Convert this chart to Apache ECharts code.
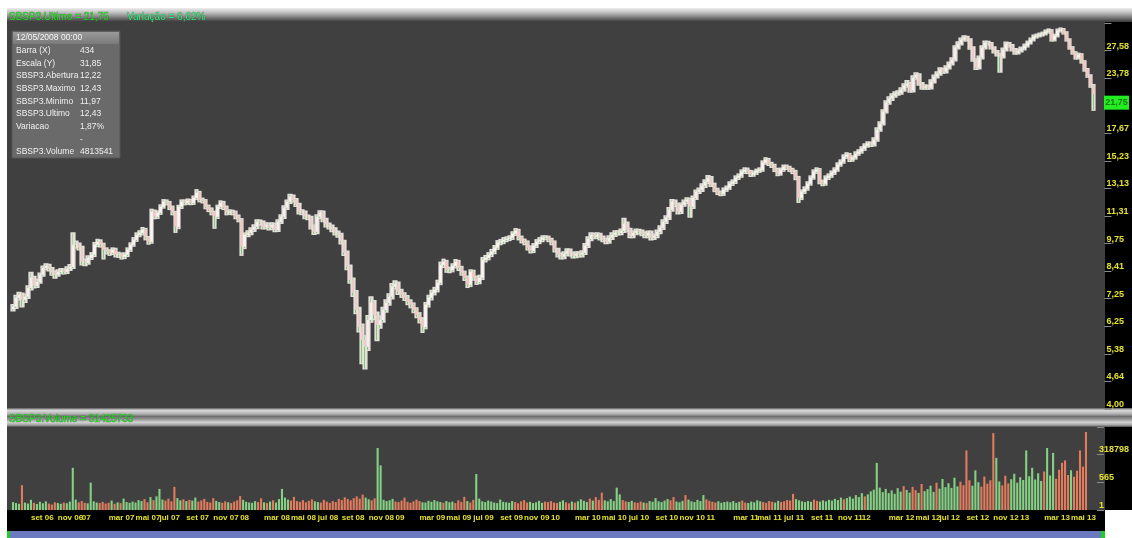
<!DOCTYPE html>
<html><head><meta charset="utf-8">
<script src="https://cdn.jsdelivr.net/npm/echarts@6/dist/echarts.min.js"></script>
<style>html,body{margin:0;padding:0;background:#fff;}#c{width:1132px;height:538px;}</style>
</head><body><div id="c"></div>
<script>
// ---------- DATA (weekly bars) ----------
const startWeek = '2006-07-24';
const weekOpen = [
6.85,6.94,7.28,7.40,7.20,7.32,7.68,8.11,7.77,7.93,
8.24,8.55,8.64,8.51,8.33,8.24,8.37,8.42,8.37,8.51,
8.60,9.69,9.69,9.54,8.83,8.79,9.03,9.18,9.69,9.85,
9.69,9.43,9.33,9.28,9.43,9.18,9.18,9.08,9.18,9.43,
9.69,9.95,10.22,10.33,10.50,10.06,9.85,11.57,11.27,11.51,
11.89,12.21,12.14,11.83,11.51,10.67,11.89,12.21,12.14,12.27,
12.14,12.47,12.82,12.34,12.27,11.89,11.70,11.51,11.27,11.89,
12.14,11.83,11.51,11.57,11.51,11.27,11.08,9.59,10.22,10.33,
10.50,10.67,10.96,10.91,10.67,10.79,10.62,10.79,10.50,10.96,
11.27,11.83,12.21,12.54,12.34,12.02,11.57,11.51,11.27,11.21,
10.67,10.39,11.27,11.51,11.08,10.79,10.67,10.50,10.33,10.22,
9.85,9.28,8.60,8.02,7.48,6.82,6.22,5.80,5.59,6.46,
7.09,6.64,6.29,6.46,6.82,7.09,7.32,7.73,7.85,7.52,
7.40,7.28,7.12,7.01,6.82,6.64,6.46,6.22,7.01,7.28,
7.48,7.60,7.89,8.69,8.83,8.46,8.46,8.64,8.83,8.55,
8.33,8.11,7.81,8.37,8.11,7.93,8.11,8.93,9.03,9.18,
9.33,9.54,9.80,9.85,9.95,10.00,10.06,10.28,10.44,10.06,
9.90,9.80,9.54,9.38,9.64,9.85,9.95,10.06,10.06,9.95,
9.80,9.43,9.18,9.08,9.23,9.38,9.23,9.13,9.23,9.18,
9.28,9.64,10.00,10.22,10.11,10.22,10.06,9.95,9.85,10.06,
10.22,10.33,10.33,10.44,10.85,10.50,10.17,10.33,10.44,10.39,
10.28,10.17,10.33,10.06,10.17,10.39,10.62,10.96,11.21,11.70,
12.21,12.02,11.57,12.02,12.21,12.34,11.89,12.47,12.89,13.03,
13.32,13.60,13.90,13.39,13.03,12.82,12.75,13.03,13.17,13.46,
13.60,13.90,14.05,14.36,14.51,14.36,14.13,14.28,14.43,14.51,
15.07,15.32,14.99,14.83,14.51,14.20,14.51,14.75,14.67,14.51,
14.36,13.90,12.47,12.89,13.10,13.46,13.90,14.36,14.51,13.60,
13.46,13.90,14.05,14.28,14.51,14.91,15.15,15.57,15.74,15.32,
15.49,15.82,16.00,16.25,16.52,16.70,16.61,17.06,18.00,18.60,
19.84,20.83,21.28,21.63,21.86,21.98,22.34,22.82,23.07,22.22,
23.83,24.21,23.07,22.58,22.70,22.58,23.32,23.95,24.34,24.88,
24.61,25.15,25.69,26.25,28.01,28.62,29.24,29.56,29.24,28.01,
26.25,25.15,26.54,28.01,28.77,28.62,28.01,27.41,26.97,26.68,
27.71,28.62,28.31,27.71,27.26,27.56,27.86,28.31,28.77,29.24,
29.72,29.88,30.04,30.20,30.53,30.70,29.24,29.88,30.70,30.87,
30.37,29.24,28.01,27.26,26.54,26.97,25.97,24.88,24.08,22.82];
const weekClose = [
6.94,7.28,7.40,7.20,7.32,7.68,8.11,7.77,7.93,8.24,
8.55,8.64,8.51,8.33,8.24,8.37,8.42,8.37,8.51,8.60,
9.69,9.69,9.54,8.83,8.79,9.03,9.18,9.69,9.85,9.69,
9.43,9.33,9.28,9.43,9.18,9.18,9.08,9.18,9.43,9.69,
9.95,10.22,10.33,10.50,10.06,9.85,11.57,11.27,11.51,11.89,
12.21,12.14,11.83,11.51,10.67,11.89,12.21,12.14,12.27,12.14,
12.47,12.82,12.34,12.27,11.89,11.70,11.51,11.27,11.89,12.14,
11.83,11.51,11.57,11.51,11.27,11.08,9.59,10.22,10.33,10.50,
10.67,10.96,10.91,10.67,10.79,10.62,10.79,10.50,10.96,11.27,
11.83,12.21,12.54,12.34,12.02,11.57,11.51,11.27,11.21,10.67,
10.39,11.27,11.51,11.08,10.79,10.67,10.50,10.33,10.22,9.85,
9.28,8.60,8.02,7.48,6.82,6.22,5.80,5.59,6.46,7.09,
6.64,6.29,6.46,6.82,7.09,7.32,7.73,7.85,7.52,7.40,
7.28,7.12,7.01,6.82,6.64,6.46,6.22,7.01,7.28,7.48,
7.60,7.89,8.69,8.83,8.46,8.46,8.64,8.83,8.55,8.33,
8.11,7.81,8.37,8.11,7.93,8.11,8.93,9.03,9.18,9.33,
9.54,9.80,9.85,9.95,10.00,10.06,10.28,10.44,10.06,9.90,
9.80,9.54,9.38,9.64,9.85,9.95,10.06,10.06,9.95,9.80,
9.43,9.18,9.08,9.23,9.38,9.23,9.13,9.23,9.18,9.28,
9.64,10.00,10.22,10.11,10.22,10.06,9.95,9.85,10.06,10.22,
10.33,10.33,10.44,10.85,10.50,10.17,10.33,10.44,10.39,10.28,
10.17,10.33,10.06,10.17,10.39,10.62,10.96,11.21,11.70,12.21,
12.02,11.57,12.02,12.21,12.34,11.89,12.47,12.89,13.03,13.32,
13.60,13.90,13.39,13.03,12.82,12.75,13.03,13.17,13.46,13.60,
13.90,14.05,14.36,14.51,14.36,14.13,14.28,14.43,14.51,15.07,
15.32,14.99,14.83,14.51,14.20,14.51,14.75,14.67,14.51,14.36,
13.90,12.47,12.89,13.10,13.46,13.90,14.36,14.51,13.60,13.46,
13.90,14.05,14.28,14.51,14.91,15.15,15.57,15.74,15.32,15.49,
15.82,16.00,16.25,16.52,16.70,16.61,17.06,18.00,18.60,19.84,
20.83,21.28,21.63,21.86,21.98,22.34,22.82,23.07,22.22,23.83,
24.21,23.07,22.58,22.70,22.58,23.32,23.95,24.34,24.88,24.61,
25.15,25.69,26.25,28.01,28.62,29.24,29.56,29.24,28.01,26.25,
25.15,26.54,28.01,28.77,28.62,28.01,27.41,26.97,26.68,27.71,
28.62,28.31,27.71,27.26,27.56,27.86,28.31,28.77,29.24,29.72,
29.88,30.04,30.20,30.53,30.70,29.24,29.88,30.70,30.87,30.37,
29.24,28.01,27.26,26.54,26.97,25.97,24.88,24.08,22.82,21.75];
const weekHigh = [
7.00,7.36,7.48,7.45,7.40,7.75,8.33,8.15,8.02,8.30,
8.62,8.72,8.70,8.55,8.38,8.44,8.50,8.48,8.58,8.68,
10.30,9.85,9.75,9.58,8.95,9.10,9.26,9.78,9.95,9.92,
9.74,9.50,9.40,9.50,9.48,9.28,9.24,9.25,9.50,9.76,
10.04,10.30,10.42,10.60,10.55,10.10,11.70,11.65,11.60,11.98,
12.32,12.30,12.20,11.90,11.56,11.95,12.30,12.30,12.36,12.34,
12.56,13.00,12.88,12.42,12.32,11.96,11.78,11.58,11.96,12.24,
12.20,11.90,11.66,11.64,11.58,11.34,11.12,10.30,10.42,10.58,
10.76,11.05,11.04,10.98,10.88,10.86,10.88,10.85,11.05,11.36,
11.92,12.30,12.68,12.62,12.40,12.08,11.66,11.58,11.34,11.26,
10.74,11.36,11.60,11.58,11.14,10.86,10.74,10.58,10.40,10.28,
9.90,9.34,8.66,8.08,7.55,6.90,6.30,5.92,6.60,7.30,
7.15,6.72,6.58,6.90,7.18,7.42,7.84,7.96,7.90,7.60,
7.46,7.35,7.18,7.06,6.88,6.70,6.52,7.08,7.36,7.56,
7.68,7.98,8.80,8.94,8.88,8.56,8.72,8.92,8.88,8.60,
8.38,8.16,8.44,8.42,8.16,8.20,9.02,9.12,9.26,9.42,
9.62,9.88,9.94,10.04,10.08,10.14,10.36,10.54,10.50,10.12,
9.96,9.86,9.60,9.72,9.93,10.04,10.14,10.14,10.12,10.00,
9.86,9.48,9.24,9.30,9.45,9.44,9.28,9.30,9.30,9.35,
9.72,10.08,10.30,10.28,10.30,10.28,10.12,10.00,10.14,10.30,
10.42,10.42,10.52,11.14,10.92,10.56,10.40,10.52,10.50,10.46,
10.34,10.40,10.40,10.24,10.46,10.70,11.05,11.30,11.80,12.32,
12.30,12.08,12.10,12.30,12.44,12.40,12.56,12.98,13.12,13.42,
13.70,14.02,13.96,13.46,13.10,12.90,13.12,13.26,13.56,13.70,
14.00,14.15,14.46,14.62,14.60,14.42,14.38,14.52,14.62,15.18,
15.44,15.38,15.06,14.90,14.58,14.60,14.84,14.84,14.74,14.58,
14.42,13.96,12.98,13.20,13.56,14.00,14.46,14.62,14.56,13.68,
14.00,14.15,14.38,14.62,15.02,15.26,15.68,15.86,15.80,15.60,
15.94,16.12,16.38,16.64,16.82,16.80,17.18,18.14,18.74,19.98,
20.98,21.44,21.78,22.02,22.14,22.50,22.98,23.40,23.14,24.00,
24.40,24.28,23.14,22.86,22.80,23.48,24.12,24.54,25.06,24.98,
25.32,25.86,26.44,28.20,28.82,29.44,29.76,29.70,29.30,28.08,
26.32,26.70,28.20,28.96,28.92,28.70,28.08,27.50,27.06,27.88,
28.80,28.72,28.40,27.80,27.72,28.02,28.48,28.94,29.42,29.90,
30.06,30.22,30.38,30.72,30.90,30.78,30.04,30.88,31.06,30.96,
30.44,29.30,28.08,27.34,27.12,27.04,26.04,24.96,24.14,22.90];
const weekLow = [
6.80,6.90,7.22,6.95,7.12,7.28,7.62,7.70,7.72,7.90,
8.20,8.50,8.44,8.25,8.12,8.20,8.32,8.30,8.33,8.46,
8.55,9.55,9.45,8.72,8.68,8.75,8.98,9.12,9.62,9.60,
9.00,9.25,9.18,9.22,9.10,9.08,9.00,9.02,9.12,9.38,
9.64,9.90,10.15,10.25,9.98,9.75,9.80,11.18,11.20,11.45,
11.84,12.05,11.75,11.42,10.39,10.60,11.82,12.05,12.08,12.06,
12.08,12.40,12.25,12.18,11.80,11.62,11.42,10.62,11.20,11.82,
11.75,11.42,11.44,11.42,11.18,11.00,9.18,9.52,10.15,10.26,
10.44,10.60,10.82,10.58,10.60,10.52,10.55,10.42,10.44,10.90,
11.20,11.76,12.14,12.25,11.94,11.48,11.42,11.18,11.12,10.58,
10.28,10.32,11.20,11.00,10.70,10.58,10.42,10.24,10.12,9.76,
9.18,8.50,7.90,7.36,6.70,6.08,5.12,4.98,5.50,6.40,
6.50,5.80,6.20,6.40,6.76,7.02,7.26,7.66,7.44,7.32,
7.20,7.04,6.92,6.74,6.56,6.38,6.06,6.18,6.95,7.22,
7.42,7.54,7.84,8.60,8.38,8.36,8.40,8.58,8.46,8.25,
8.02,7.72,7.76,8.03,7.85,7.88,8.06,8.86,8.96,9.12,
9.26,9.48,9.72,9.78,9.88,9.94,10.00,10.22,9.98,9.82,
9.72,9.45,9.30,9.32,9.58,9.78,9.88,9.98,9.88,9.72,
9.35,9.10,9.00,9.02,9.16,9.15,9.05,9.06,9.10,9.10,
9.22,9.58,9.94,10.04,10.05,9.98,9.88,9.78,9.80,10.00,
10.16,10.25,10.26,10.38,10.42,10.10,10.10,10.26,10.30,10.20,
10.10,10.10,9.98,10.00,10.10,10.32,10.56,10.90,11.14,11.64,
11.94,11.48,11.50,11.96,12.14,11.27,11.82,12.40,12.82,12.96,
13.24,13.52,13.30,12.94,12.74,12.66,12.68,12.96,13.10,13.38,
13.52,13.82,13.98,14.28,14.26,14.04,14.06,14.20,14.36,14.44,
15.00,14.90,14.74,14.42,14.10,14.14,14.44,14.58,14.42,14.26,
13.80,12.21,12.40,12.82,13.04,13.40,13.84,14.28,13.50,13.36,
13.40,13.82,13.98,14.20,14.44,14.84,15.08,15.48,15.22,15.24,
15.42,15.74,15.92,16.16,16.44,16.50,16.54,16.98,17.92,18.52,
19.76,20.72,21.16,21.52,21.76,21.88,22.24,22.72,22.10,22.14,
23.72,22.96,22.46,22.48,22.46,22.50,23.24,23.86,24.24,24.50,
24.52,25.06,25.60,26.16,27.90,28.52,29.12,29.12,27.88,26.12,
25.00,25.06,26.44,27.90,28.50,27.90,27.30,26.86,24.61,26.58,
27.60,28.20,27.60,27.14,27.16,27.46,27.76,28.20,28.66,29.14,
29.60,29.78,29.92,30.10,30.40,29.12,29.14,29.78,30.58,30.24,
29.12,27.88,27.14,26.42,26.44,25.86,24.76,23.96,22.70,20.05];
// volume in millions of shares
const weekVolumeM = [
3.2,2.8,2.5,10.0,3.0,2.6,4.1,2.9,2.4,3.3,2.7,3.5,2.6,2.2,3.1,2.8,2.5,3.0,2.7,3.4,
17.0,4.2,3.1,3.6,2.9,2.7,11.0,3.5,3.0,2.8,3.3,2.6,2.9,3.8,2.5,3.1,2.8,4.6,3.2,2.9,
3.4,3.0,4.0,3.6,4.4,3.1,5.2,4.0,5.5,8.5,4.2,3.8,4.6,3.5,9.3,4.8,3.9,4.3,3.6,4.1,
3.8,5.0,3.4,3.9,4.5,3.3,3.0,4.8,3.7,3.2,2.9,3.5,3.1,2.8,3.4,3.9,5.6,4.1,3.3,3.0,
2.9,3.6,3.2,4.7,3.1,2.8,3.4,3.9,3.0,4.4,8.5,5.0,4.2,3.8,5.3,3.6,3.3,4.0,3.1,3.7,
4.3,3.5,3.2,3.0,4.1,3.4,2.9,3.6,3.2,4.5,4.0,5.1,4.4,3.9,4.8,5.5,4.6,6.2,5.0,4.3,
3.9,4.7,25.0,18.0,4.1,3.6,3.9,4.5,3.4,3.2,3.8,5.0,3.3,2.9,3.5,4.2,3.6,3.1,3.0,3.7,
3.3,4.0,3.5,3.2,2.9,3.6,3.1,3.4,2.8,3.9,3.3,5.3,3.6,3.0,4.1,14.5,4.6,3.5,3.2,3.8,
3.4,3.0,2.8,4.2,3.3,3.1,2.9,3.6,3.2,2.7,3.5,4.0,3.0,3.3,2.8,3.1,3.7,2.9,3.4,3.2,
3.6,3.0,2.8,3.3,3.9,3.1,2.7,3.4,3.0,3.5,4.3,3.7,3.2,4.6,3.8,5.2,4.1,7.0,3.9,3.5,
4.4,3.6,9.0,6.3,4.0,3.5,3.2,3.7,3.1,2.9,3.4,3.0,2.8,3.6,3.3,4.8,3.5,3.2,3.8,4.4,
3.9,5.2,3.4,3.1,3.7,6.0,4.2,3.5,3.2,4.1,3.6,6.0,4.3,3.7,3.3,3.0,3.5,2.9,3.2,3.4,
3.1,3.6,2.9,3.3,3.8,3.0,2.8,3.4,3.1,3.9,3.5,3.2,2.9,3.6,3.3,3.0,3.7,3.2,3.5,4.0,
3.8,6.5,4.4,3.9,3.5,3.2,3.6,3.3,4.2,3.7,3.4,3.9,3.5,4.1,3.8,4.5,4.0,5.0,4.3,4.8,
5.4,4.6,6.0,5.2,6.8,5.5,6.3,7.5,8.2,19.0,9.0,7.2,8.5,6.8,7.9,6.5,8.8,7.4,9.6,8.1,
7.0,9.3,8.0,6.9,10.5,7.6,8.4,9.8,7.3,11.0,8.6,12.5,9.2,10.8,8.9,13.0,9.5,11.4,10.0,24.0,
12.0,9.8,16.0,11.2,9.4,13.5,10.6,12.0,31.0,21.0,11.5,9.9,13.8,10.7,12.4,14.6,11.0,13.2,12.1,24.0,
13.6,17.0,12.3,14.8,11.7,15.5,25.0,13.9,23.0,12.6,16.2,19.0,20.0,14.1,16.0,13.4,15.8,24.0,17.5,31.43];

const priceTickLabels = ['4,00','4,64','5,38','6,25','7,25','8,41','9,75','11,31','13,13','15,23','17,67','','23,78','27,58',''];
const volumeTickLabels = ['1','565','318798'];
const monthNames = ['jan','fev','mar','abr','mai','jun','jul','ago','set','out','nov','dez'];
const lastPriceLabel = '21,75';
const headerPrice = 'SBSP3.Ultimo = 21,75';
const headerVar = 'Variação = 6,62%';
const headerVolume = 'SBSP3.Volume = 31425733';
const infoTitle = '12/05/2008 00:00';
const infoLabels = ['Barra (X)','Escala (Y)','SBSP3.Abertura','SBSP3.Maximo','SBSP3.Minimo','SBSP3.Ultimo','Variacao','','SBSP3.Volume'];
const infoValues = ['434','31,85','12,22','12,43','11,97','12,43','1,87%','-','4813541'];

// ---------- BUILD ----------
const N = weekClose.length;
const categories = weekClose.map((_, i) => {
  const d = new Date(startWeek + 'T00:00:00Z');
  d.setUTCDate(d.getUTCDate() + 7 * i);
  return d.toISOString().slice(0, 10);
});
const toK = v => Math.log(v / 4) / Math.log(8) * 14;   // log scale: 4 .. 32 in 14 equal steps
const lowOf = i => Math.min(weekLow[i], weekOpen[i], weekClose[i]);
const highOf = i => Math.max(weekHigh[i], weekOpen[i], weekClose[i]);
const rangeData = weekClose.map((c, i) => [toK(lowOf(i)), toK(highOf(i)), toK(lowOf(i)), toK(highOf(i))]);
const bodyData = weekClose.map((c, i) => {
  const o = weekOpen[i];
  return [toK(o), toK(c), toK(Math.min(o, c)), toK(Math.max(o, c))];
});
const lowerShadow = weekClose.map((c, i) => {
  const b = Math.min(weekOpen[i], c);
  return [toK(lowOf(i)), toK(b), toK(lowOf(i)), toK(b)];
});
const upperShadow = weekClose.map((c, i) => {
  const t = Math.max(weekOpen[i], c);
  return [toK(t), toK(highOf(i)), toK(t), toK(highOf(i))];
});
const volData = weekVolumeM.map((v, i) => ({
  value: v,
  itemStyle: { color: weekClose[i] >= weekOpen[i] ? '#84d184' : '#e27a5c' }
}));
function showMonth(i) {
  if (i === 0) return false;
  const m = +categories[i].slice(5, 7), pm = +categories[i - 1].slice(5, 7);
  return m !== pm && m % 2 === 1;
}
function monthLabel(v) {
  const m = +v.slice(5, 7), y = v.slice(2, 4);
  return m === 1 ? y : monthNames[m - 1] + ' ' + y;
}
const FONT = 'Liberation Sans';
const YEL = '#e4e22c';
const GL = 11.5, GW = 1084;

const barGrad = (stops) => ({ type: 'linear', x: 0, y: 0, x2: 0, y2: 1, colorStops: stops });
const graphics = [
  { type: 'rect', z: -10, shape: { x: 7, y: 8, width: 1125, height: 14 },
    style: { fill: barGrad([{offset:0,color:'#ededed'},{offset:0.3,color:'#c4c4c4'},{offset:0.6,color:'#8a8a8a'},{offset:0.85,color:'#575757'},{offset:1,color:'#3a3a3a'}]) } },
  { type: 'rect', z: -10, shape: { x: 7, y: 22, width: 1098, height: 387 }, style: { fill: '#404040' } },
  { type: 'rect', z: -10, shape: { x: 1105, y: 22, width: 27, height: 387 }, style: { fill: '#000' } },
  { type: 'rect', z: -10, shape: { x: 7, y: 408, width: 1125, height: 19 },
    style: { fill: barGrad([{offset:0,color:'#5a5a5a'},{offset:0.12,color:'#dadada'},{offset:0.3,color:'#b4b4b4'},{offset:0.45,color:'#6e6e6e'},{offset:0.6,color:'#989898'},{offset:0.75,color:'#d2d2d2'},{offset:0.9,color:'#a2a2a2'},{offset:1,color:'#4a4a4a'}]) } },
  { type: 'rect', z: -10, shape: { x: 7, y: 427, width: 1098, height: 83 }, style: { fill: '#404040' } },
  { type: 'rect', z: -10, shape: { x: 1105, y: 427, width: 27, height: 83 }, style: { fill: '#000' } },
  { type: 'rect', z: -10, shape: { x: 7, y: 510, width: 1098, height: 21 }, style: { fill: '#000' } },
  { type: 'rect', z: -10, shape: { x: 7, y: 531, width: 1098, height: 7 }, style: { fill: '#6c7bbf' } },
  { type: 'rect', z: -9, shape: { x: 7, y: 531, width: 3, height: 7 }, style: { fill: '#20d020' } },
  { type: 'rect', z: -9, shape: { x: 1101, y: 531, width: 4, height: 7 }, style: { fill: '#20d020' } },
  { type: 'text', z: 50, x: 9, y: 17, style: { text: headerPrice, fill: '#22e022', font: '10px ' + FONT, textVerticalAlign: 'middle', stroke: 'rgba(20,60,20,0.5)', lineWidth: 0.6 } },
  { type: 'text', z: 50, x: 127, y: 17, style: { text: headerVar, fill: '#33e87a', font: '10px ' + FONT, textVerticalAlign: 'middle', stroke: 'rgba(20,60,20,0.5)', lineWidth: 0.6 } },
  { type: 'text', z: 50, x: 9, y: 419, style: { text: headerVolume, fill: '#22e022', font: '10px ' + FONT, textVerticalAlign: 'middle', stroke: 'rgba(20,60,20,0.5)', lineWidth: 0.6 } },
  // info box
  { type: 'rect', z: 50, shape: { x: 12, y: 31, width: 108, height: 127 }, style: { fill: 'rgba(110,110,110,0.93)', stroke: '#555', lineWidth: 1 } },
  { type: 'rect', z: 51, shape: { x: 13, y: 32, width: 106, height: 12 },
    style: { fill: barGrad([{offset:0,color:'#9a9a9a'},{offset:1,color:'#7a7a7a'}]) } },
  { type: 'text', z: 52, x: 16, y: 38, style: { text: infoTitle, fill: '#f4f4f4', font: '8.5px ' + FONT, textVerticalAlign: 'middle' } }
];
infoLabels.forEach((t, i) => {
  const y = 50.5 + i * 12.7;
  graphics.push({ type: 'text', z: 52, x: 16, y, style: { text: t, fill: '#f0f0f0', font: '8.5px ' + FONT, textVerticalAlign: 'middle' } });
  graphics.push({ type: 'text', z: 52, x: 80, y, style: { text: infoValues[i], fill: '#f0f0f0', font: '8.5px ' + FONT, textVerticalAlign: 'middle' } });
});

const chart = echarts.init(document.getElementById('c'), null, { renderer: 'canvas', width: 1132, height: 538 });
const green = { color: '#33c433', borderColor: '#33c433', color0: '#33c433', borderColor0: '#33c433', borderWidth: 0.6 };
chart.setOption({
  animation: false,
  backgroundColor: '#ffffff',
  graphic: { elements: graphics },
  grid: [
    { left: GL, width: GW, top: 23, height: 386 },
    { left: GL, width: GW, top: 427, height: 83 }
  ],
  xAxis: [
    { type: 'category', gridIndex: 0, data: categories, boundaryGap: true, show: false },
    { type: 'category', gridIndex: 1, data: categories, boundaryGap: true,
      axisLine: { show: false },
      axisTick: { show: true, inside: true, length: 5, alignWithLabel: true, interval: (i) => showMonth(i), lineStyle: { color: '#9c9c9c' } },
      axisLabel: { interval: (i) => showMonth(i), formatter: monthLabel, color: YEL, fontSize: 8, fontWeight: 'bold', fontFamily: FONT, align: 'left', margin: 4, hideOverlap: false } }
  ],
  yAxis: [
    { type: 'value', gridIndex: 0, position: 'right', offset: 9.5, min: 0, max: 14, interval: 1,
      axisLine: { show: false }, splitLine: { show: false },
      axisTick: { show: true, length: 7, lineStyle: { color: '#8a8a8a' } },
      axisLabel: { color: YEL, fontSize: 9, fontWeight: 'bold', fontFamily: FONT, align: 'left', verticalAlign: 'bottom', margin: 2,
        formatter: v => { const k = Math.round(v); return Math.abs(v - k) < 1e-6 ? (priceTickLabels[k] || '') : ''; } } },
    { type: 'value', gridIndex: 1, min: 0, max: 33.45, show: false },
    { type: 'value', gridIndex: 1, position: 'right', offset: 9.5, min: 0, max: 83 / 28, interval: 1,
      axisLine: { show: false }, splitLine: { show: false },
      axisTick: { show: true, length: 7, lineStyle: { color: '#8a8a8a' } },
      axisLabel: { color: YEL, fontSize: 9, fontWeight: 'bold', fontFamily: FONT, align: 'left', verticalAlign: 'bottom', margin: 2,
        formatter: v => { const k = Math.round(v); return Math.abs(v - k) < 1e-6 ? (volumeTickLabels[k] || '') : ''; } } }
  ],
  series: [
    { type: 'candlestick', name: 'range', xAxisIndex: 0, yAxisIndex: 0, data: rangeData, barWidth: 3,
      itemStyle: { color: '#e6dedb', borderColor: '#e6dedb', color0: '#e6dedb', borderColor0: '#e6dedb', borderWidth: 2.2 } },
    { type: 'candlestick', name: 'SBSP3', xAxisIndex: 0, yAxisIndex: 0, data: bodyData, barWidth: 2,
      itemStyle: { color: '#f8f5f3', borderColor: '#f8f5f3', color0: '#efc6c1', borderColor0: '#efc6c1', borderWidth: 0.5 },
      markPoint: { symbol: 'rect', symbolSize: [25, 14], symbolOffset: [23, 8], silent: true,
        itemStyle: { color: '#22ee22' },
        label: { show: true, position: 'inside', formatter: lastPriceLabel, color: '#1b7a1b', fontSize: 9, fontWeight: 'bold', fontFamily: FONT },
        data: [{ coord: [N - 1, toK(weekClose[N - 1])] }] } },
    { type: 'candlestick', name: 'low shadow', xAxisIndex: 0, yAxisIndex: 0, data: lowerShadow, barWidth: 1, itemStyle: green },
    { type: 'candlestick', name: 'high shadow', xAxisIndex: 0, yAxisIndex: 0, data: upperShadow, barWidth: 1, itemStyle: Object.assign({}, green, { opacity: 0.55 }) },
    { type: 'bar', name: 'Volume', xAxisIndex: 1, yAxisIndex: 1, data: volData, barCategoryGap: '30%' }
  ]
});
</script>
</body></html>
